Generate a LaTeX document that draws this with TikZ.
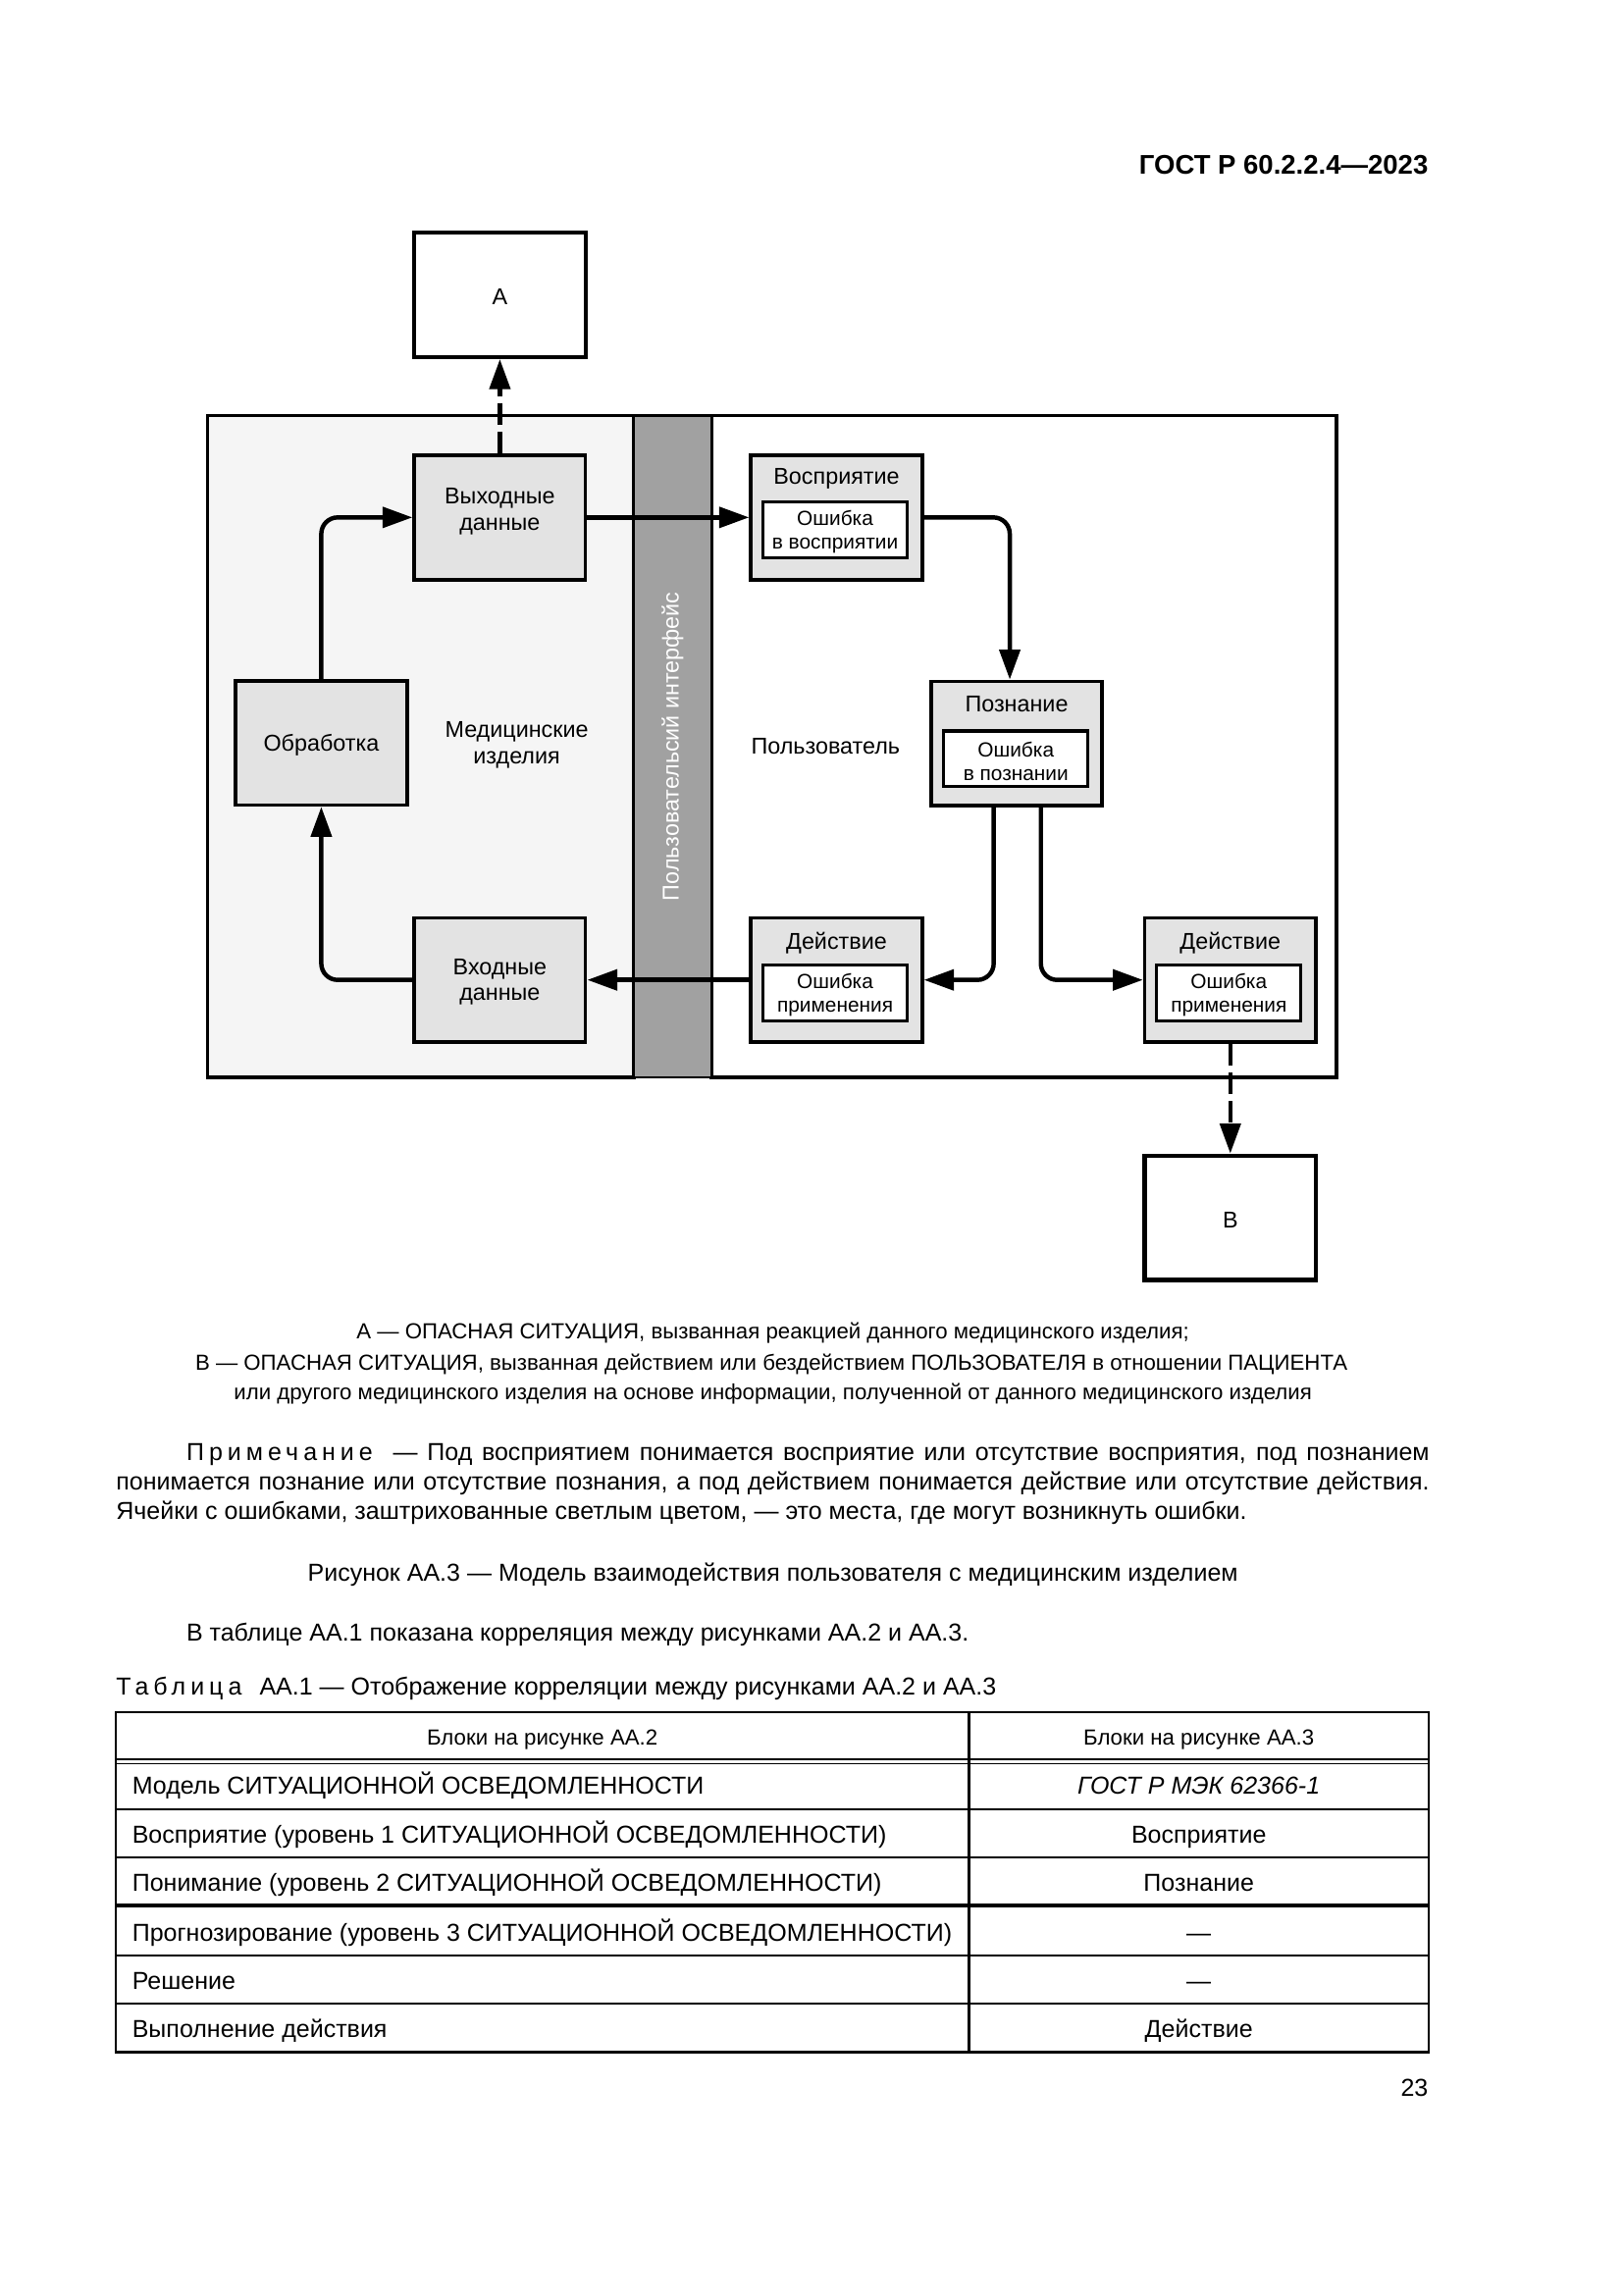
\documentclass[tikz,border=0pt]{standalone}
\usepackage{fontspec}
\setmainfont{Liberation Sans}
\newfontfamily\spacedfont[LetterSpace=20]{Liberation Sans}
\usetikzlibrary{arrows.meta,positioning}

\tikzset{
  lbl/.style={font=\fontsize{8.4}{9.6}\selectfont,align=center,inner sep=0pt},
  errlbl/.style={font=\fontsize{7.5}{8.6}\selectfont,align=center,inner sep=0pt},
  endbox/.style={draw,line width=1.5pt,fill=white,minimum width=62.8pt,minimum height=45.6pt,inner sep=0pt,lbl},
  blockbox/.style={draw,line width=1.3pt,fill=black!11,minimum width=62.8pt,minimum height=45.6pt,inner sep=0pt,lbl},
  errbox/.style={draw,line width=1.1pt,fill=white,minimum width=53pt,minimum height=20.5pt,inner sep=0pt,errlbl},
  flow/.style={line width=1.6pt,-{Triangle[length=11pt,width=7.5pt]},rounded corners=6pt},
  hazard/.style={flow,dash pattern=on 8pt off 2.5pt},
  bodytext/.style={font=\fontsize{9}{10.8}\selectfont,inner sep=0pt},
  keytext/.style={font=\fontsize{8}{10.8}\selectfont,inner sep=0pt},
}

\begin{document}
\begin{tikzpicture}[x=0.53677pt,y=-0.53677pt]
\useasboundingbox (0,0) rectangle (1109,1568);
% header
\node[anchor=base east,inner sep=0pt,font=\bfseries\fontsize{9.9}{12}\selectfont] (head) at (976,119) {ГОСТ Р 60.2.2.4—2023};

% device side, user side and the interface band
\draw[line width=1.2pt,fill=black!4] (142,284) rectangle (433,736);
\draw[line width=1.2pt,fill=white] (486,284) rectangle (913,736);
\draw[line width=1pt,fill=black!37] (433,284) rectangle (486,736);
\node[lbl,rotate=90,text=white] (ui) at (459.5,510) {Пользовательсий интерфейс};

% hazards
\node[endbox] (hazA) at (341.5,201.5) {};
\node[lbl] (hazA-t) at (341.5,203) {А};
\node[endbox] (hazB) at (840.5,832) {};
\node[lbl] (hazB-t) at (840.5,833.5) {В};

% medical device
\node[blockbox] (out) at (341.5,353.5) {};
\node[lbl] (out-t) at (341.5,349.5) {Выходные\\данные};
\node[blockbox] (proc) at (219.5,507.5) {};
\node[lbl] (proc-t) at (219.5,509) {Обработка};
\node[blockbox] (in) at (341.5,669.5) {};
\node[lbl] (in-t) at (341.5,671) {Входные\\данные};
\node[lbl] (med) at (353,509) {Медицинские\\изделия};

% user
\node[lbl] (user) at (564,510) {Пользователь};
\node[blockbox] (perc) at (571.5,353.5) {};
\node[lbl] (perc-t) at (571.5,327) {Восприятие};
\node[errbox] (perc-e) at (570.5,362) {};
\node[lbl,font=\fontsize{7.5}{8.6}\selectfont] (perc-et) at (570.5,363.5) {Ошибка\\в восприятии};
\node[blockbox] (cog) at (694.5,508) {};
\node[lbl] (cog-t) at (694.5,481) {Познание};
\node[errbox] (cog-e) at (694,518.5) {};
\node[lbl,font=\fontsize{7.5}{8.6}\selectfont] (cog-et) at (694,520) {Ошибка\\в познании};
\node[blockbox] (act1) at (571.5,669.5) {};
\node[lbl] (act1-t) at (571.5,644) {Действие};
\node[errbox] (act1-e) at (570.5,678.5) {};
\node[lbl,font=\fontsize{7.5}{8.6}\selectfont] (act1-et) at (570.5,680) {Ошибка\\применения};
\node[blockbox] (act2) at (840.5,669.5) {};
\node[lbl] (act2-t) at (840.5,644) {Действие};
\node[errbox] (act2-e) at (839.5,678.5) {};
\node[lbl,font=\fontsize{7.5}{8.6}\selectfont] (act2-et) at (839.5,680) {Ошибка\\применения};

% loop
\draw[flow] (proc.north) |- (out.west);
\draw[flow] (in.west) -| (proc.south);
\draw[flow] (out.east) -- (perc.west);
\draw[flow] (perc.east) -| ([xshift=-2.5pt]cog.north);
\draw[flow] ([xshift=-8.4pt]cog.south) |- (act1.east);
\draw[flow] ([xshift=8.9pt]cog.south) |- (act2.west);
\draw[flow] (act1.west) -- (in.east);
\draw[hazard] (out.north) -- (hazA.south);
\draw[hazard] (act2.south) -- (hazB.north);

% key
\node[keytext,anchor=base] (keyA) at (528,915) {А — ОПАСНАЯ СИТУАЦИЯ, вызванная реакцией данного медицинского изделия;};
\node[keytext,anchor=base] (keyB) at (527,936) {В — ОПАСНАЯ СИТУАЦИЯ, вызванная действием или бездействием ПОЛЬЗОВАТЕЛЯ в отношении ПАЦИЕНТА};
\node[keytext,anchor=base] (keyC) at (528,956) {или другого медицинского изделия на основе информации, полученной от данного медицинского изделия};

% note and caption
\node[bodytext,anchor=north west,text width=481.5pt,align=justify] (note) at (79,986) {\hspace*{25.8pt}{\spacedfont Примечание}\hspace{4pt} — Под восприятием понимается восприятие или отсутствие восприятия, под познанием\linebreak понимается познание или отсутствие познания, а под действием понимается действие или отсутствие действия.\linebreak Ячейки с ошибками, заштрихованные светлым цветом, — это места, где могут возникнуть ошибки.};
\node[bodytext,anchor=base] (capt) at (528,1080) {Рисунок АА.3 — Модель взаимодействия пользователя с медицинским изделием};
\node[bodytext,anchor=base west] (ref) at (127,1121) {В таблице АА.1 показана корреляция между рисунками АА.2 и АА.3.};
\node[bodytext,anchor=base west] (tabt) at (79,1158) {{\spacedfont Таблица}\hspace{4pt} АА.1 — Отображение корреляции между рисунками АА.2 и АА.3};

% table
\draw[line width=0.8pt] (79,1170) rectangle (976,1402);
\draw[line width=0.8pt] (662,1170) -- (662,1402);
\draw[line width=0.6pt] (79,1202) -- (976,1202) (79,1205) -- (976,1205);
\foreach \y in {1236,1269,1336,1369}
  \draw[line width=0.8pt] (79,\y) -- (976,\y);
\draw[line width=1.3pt] (79,1302) -- (976,1302);
\node[keytext,anchor=base] (h1) at (370.5,1192) {Блоки на рисунке АА.2};
\node[keytext,anchor=base] (h2) at (819,1192) {Блоки на рисунке АА.3};
\foreach \y/\lt/\rt [count=\i] in {1219/{Модель СИТУАЦИОННОЙ ОСВЕДОМЛЕННОСТИ}/{\itshape ГОСТ Р МЭК 62366-1},
    1252/{Восприятие (уровень 1 СИТУАЦИОННОЙ ОСВЕДОМЛЕННОСТИ)}/{Восприятие},
    1285/{Понимание (уровень 2 СИТУАЦИОННОЙ ОСВЕДОМЛЕННОСТИ)}/{Познание},
    1319/{Прогнозирование (уровень 3 СИТУАЦИОННОЙ ОСВЕДОМЛЕННОСТИ)}/{—},
    1352/{Решение}/{—},
    1385/{Выполнение действия}/{Действие}}{
  \node[bodytext,anchor=base west] (row\i l) at (90,\y+7) {\lt};
  \node[bodytext,anchor=base] (row\i r) at (819,\y+7) {\rt};
}
\node[bodytext,anchor=base east] (page) at (976,1432) {23};
\end{tikzpicture}
\end{document}
